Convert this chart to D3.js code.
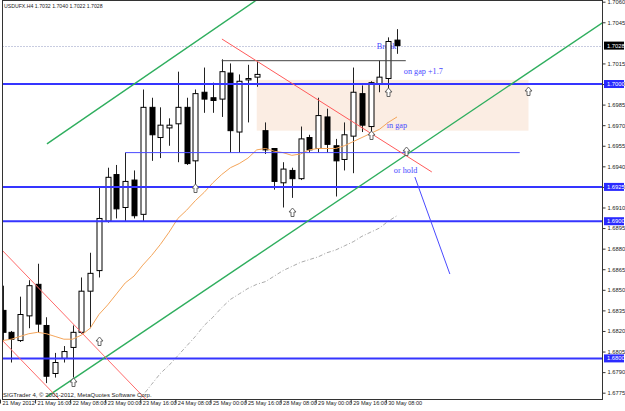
<!DOCTYPE html>
<html><head><meta charset="utf-8">
<script src="https://cdn.jsdelivr.net/npm/d3@7"></script>
<style>body{margin:0;background:#fff;} svg{display:block}</style>
</head><body><svg id="c" width="625" height="411"></svg>
<script>
// ---------- data ----------
const symbolTitle = "USDUFX.H4  1.7032 1.7040 1.7022 1.7028";
const copyright = "SIGTrader 4, \u00A9 2001-2012, MetaQuotes Software Corp.";
const timeLabels = ["21 May 2012","21 May 16:00","22 May 08:00","23 May 00:00","23 May 16:00","24 May 08:00","25 May 00:00","25 May 16:00","28 May 08:00","29 May 00:00","29 May 16:00","30 May 08:00"];
const timeLabelIdx = [0,4,8,12,16,20,24,28,32,36,40,44];
const opens  = [1.6835,1.6819,1.6813,1.6831,1.6854,1.6824,1.6789,1.6800,1.6808,1.6819,1.6849,1.6864,1.6900,1.6934,1.6910,1.6930,1.6905,1.6983,1.6961,1.6968,1.6971,1.6983,1.6944,1.6994,1.6990,1.6989,1.7008,1.6965,1.7003,1.7005,1.6966,1.6953,1.6928,1.6937,1.6931,1.6961,1.6953,1.6976,1.6955,1.6945,1.6962,1.6993,1.6969,1.7000,1.7004,1.7032];
const highs  = [1.6853,1.6820,1.6845,1.6857,1.6869,1.6830,1.6804,1.6809,1.6824,1.6859,1.6877,1.6925,1.6939,1.6941,1.6950,1.6937,1.6996,1.6990,1.6983,1.6975,1.7009,1.6990,1.6996,1.7012,1.7001,1.7018,1.7015,1.7007,1.7014,1.7016,1.6972,1.6953,1.6943,1.6939,1.6969,1.6963,1.6990,1.6982,1.6960,1.6972,1.7012,1.6999,1.7002,1.7017,1.7034,1.7040];
const lows   = [1.6813,1.6797,1.6812,1.6822,1.6819,1.6782,1.6786,1.6797,1.6786,1.6818,1.6822,1.6859,1.6899,1.6902,1.6900,1.6902,1.6900,1.6944,1.6946,1.6955,1.6943,1.6941,1.6926,1.6979,1.6979,1.6976,1.6950,1.6950,1.6972,1.6998,1.6949,1.6923,1.6910,1.6917,1.6930,1.6950,1.6950,1.6950,1.6918,1.6937,1.6935,1.6965,1.6964,1.6994,1.6997,1.7022];
const closes = [1.6819,1.6814,1.6832,1.6853,1.6825,1.6787,1.6797,1.6805,1.6819,1.6849,1.6862,1.6902,1.6932,1.6909,1.6929,1.6904,1.6983,1.6963,1.6970,1.6970,1.6983,1.6942,1.6993,1.6989,1.6988,1.7009,1.6966,1.7002,1.7004,1.7007,1.6952,1.6929,1.6938,1.6931,1.6960,1.6952,1.6977,1.6956,1.6944,1.6963,1.6994,1.6970,1.7001,1.7005,1.7031,1.7028];
const maFast = [1.6813,1.6814,1.6816,1.6818,1.6819,1.6818,1.6816,1.6814,1.6814,1.6817,1.6822,1.6832,1.6839,1.6847,1.6855,1.6860,1.6868,1.6875,1.6883,1.6892,1.6902,1.6908,1.6915,1.6921,1.6928,1.6934,1.6939,1.6942,1.6946,1.6952,1.6953,1.6951,1.6950,1.6948,1.6949,1.6952,1.6953,1.6953,1.6953,1.6955,1.6958,1.6961,1.6964,1.6967,1.6972,1.6976];
const maSlow = [null,null,null,null,null,null,null,null,null,null,null,null,null,null,null,1.6765,1.6773,1.6781,1.6789,1.6795,1.6802,1.6809,1.6816,1.6824,1.6830,1.6837,1.6843,1.6847,1.6851,1.6854,1.6856,1.6860,1.6864,1.6867,1.6870,1.6872,1.6874,1.6877,1.6879,1.6882,1.6885,1.6889,1.6892,1.6895,1.6900,1.6904];
const priceTicks = [1.7060,1.7045,1.7015,1.7000,1.6985,1.6970,1.6955,1.6940,1.6925,1.6910,1.6895,1.6880,1.6865,1.6850,1.6835,1.6820,1.6805,1.6790,1.6775];
const levelPrices = [1.7000,1.6925,1.6900,1.6800];
const lastPrice = 1.7028;
// drawing objects: [idx, price] end points
const gapBox = [[29,1.7003],[60,1.6966]];
const midLevel = [[14,1.6950],[59,1.6950]];
const highLevel = [[25,1.7017],[46,1.7017]];
const channelLow = [[5.07,1.67721],[68.47,1.70448]];
const channelHigh = [[5.07,1.69564],[30,1.70657]];
const redLineA = [[25.03,1.70328],[48.97,1.69359]];
const redLineB = [[-0.06,1.68790],[16.82,1.67671]];
const redLineC = [[-0.06,1.68134],[6.56,1.67696]];
const projection = [[47.04,1.69322],[51.03,1.68615]];
const arrowIdx = [8,11,22,33,42,44,46,60];
const arrowPrice = [1.6783,1.6813,1.6924,1.6907,1.6963,1.6994,1.6951,1.6995];
const noteTexts = ["Break","on gap +1.7","in gap","or hold"];
const noteIdx = [42.70,45.78,43.84,44.64];
const notePrice = [1.70270,1.70088,1.69694,1.69366];

// ---------- chart ----------
const svg = d3.select("#c");
const L = 2, R = 603, T = 0, B = 399.5;
const x = d3.scaleLinear().domain([0,45]).range([2.5,397]);
const y = d3.scaleLinear().domain([1.6775,1.7060]).range([392.7,1.7]);
const sans = "'Liberation Sans', Arial, sans-serif";
const serif = "'Liberation Serif', 'Times New Roman', serif";

svg.append("rect").attr("width",625).attr("height",411).attr("fill","#fff");
svg.append("defs").append("clipPath").attr("id","plot")
  .append("rect").attr("x",L).attr("y",T).attr("width",R-L).attr("height",B-T);
const g = svg.append("g").attr("clip-path","url(#plot)");

// gap box (background object)
g.append("rect")
  .attr("x",x(gapBox[0][0])).attr("y",y(gapBox[0][1]))
  .attr("width",x(gapBox[1][0])-x(gapBox[0][0]))
  .attr("height",y(gapBox[1][1])-y(gapBox[0][1]))
  .attr("fill","#fbede3");

// bid line
g.append("line").attr("x1",L).attr("x2",R).attr("y1",Math.round(y(lastPrice))+0.5).attr("y2",Math.round(y(lastPrice))+0.5)
  .attr("stroke","#c8cce0").attr("stroke-width",1).attr("stroke-dasharray","2,1");

// notes (under candles)
g.selectAll("text.note").data(noteTexts).join("text").attr("class","note")
  .attr("x",(d,i)=>x(noteIdx[i])).attr("y",(d,i)=>y(notePrice[i]))
  .attr("dominant-baseline","central")
  .attr("font-family",serif).attr("font-size",8.2).attr("fill","#4848ff")
  .text(d=>d);

// candles
const idx = d3.range(opens.length);
const bw = 5;
const cg = g.append("g");
cg.selectAll("line.wick").data(idx).join("line").attr("class","wick")
  .attr("x1",i=>Math.round(x(i))+0.5).attr("x2",i=>Math.round(x(i))+0.5)
  .attr("y1",i=>y(highs[i])).attr("y2",i=>y(lows[i]))
  .attr("stroke","#222").attr("stroke-width",1);
cg.selectAll("rect.body").data(idx).join("rect").attr("class","body")
  .attr("x",i=>Math.round(x(i))+0.5-bw/2)
  .attr("y",i=>y(Math.max(opens[i],closes[i])))
  .attr("width",bw)
  .attr("height",i=>Math.max(1,y(Math.min(opens[i],closes[i]))-y(Math.max(opens[i],closes[i]))))
  .attr("fill",i=>closes[i]>=opens[i]?"#fff":"#000")
  .attr("stroke","#000").attr("stroke-width",1);

// moving averages
const lineGen = d3.line().defined(d=>d[1]!=null).x(d=>x(d[0])).y(d=>y(d[1]));
g.append("path").attr("d",lineGen(maFast.map((v,i)=>[i,v])))
  .attr("fill","none").attr("stroke","#f4a55a").attr("stroke-width",1);
g.append("path").attr("d",lineGen(maSlow.map((v,i)=>[i,v])))
  .attr("fill","none").attr("stroke","#aaaaaa").attr("stroke-width",1).attr("stroke-dasharray","4,2,1,2");

// horizontal levels
g.selectAll("line.level").data(levelPrices).join("line").attr("class","level")
  .attr("x1",L).attr("x2",R).attr("y1",d=>y(d)).attr("y2",d=>y(d))
  .attr("stroke","#3535ff").attr("stroke-width",2);
function seg(pts,color,w,dash){
  const l = g.append("line")
    .attr("x1",x(pts[0][0])).attr("y1",y(pts[0][1]))
    .attr("x2",x(pts[1][0])).attr("y2",y(pts[1][1]))
    .attr("stroke",color).attr("stroke-width",w);
  if(dash) l.attr("stroke-dasharray",dash);
  return l;
}
seg(midLevel,"#4a4aff",1);
seg(highLevel,"#444",1);
seg(channelLow,"#2fae5e",1.4);
seg(channelHigh,"#2fae5e",1.4);
seg(redLineA,"#ff5a5a",1);
seg(redLineB,"#ff6a6a",1);
seg(redLineC,"#ff6a6a",1);
seg(projection,"#4a4aff",1);

// arrows
const arrowPath = "M0,-4.5 L3.5,-0.5 L1.5,-0.5 L1.5,4 L-1.5,4 L-1.5,-0.5 L-3.5,-0.5 Z";
g.selectAll("path.arrow").data(arrowIdx).join("path").attr("class","arrow")
  .attr("transform",(d,i)=>`translate(${Math.round(x(d))+0.5},${Math.round(y(arrowPrice[i]))+0.5})`)
  .attr("d",arrowPath).attr("fill","#fff").attr("stroke","#555").attr("stroke-width",0.9);

// title and copyright
svg.append("text").attr("x",4).attr("y",6).attr("dominant-baseline","central")
  .attr("font-family",sans).attr("font-size",5.2).attr("fill","#222").text(symbolTitle);
svg.append("text").attr("x",3).attr("y",395).attr("dominant-baseline","central")
  .attr("font-family",sans).attr("font-size",6).attr("fill","#222").text(copyright);

// frame
svg.append("rect").attr("x",L+0.5).attr("y",T+0.5).attr("width",R-L-1).attr("height",B-T-0.5)
  .attr("fill","none").attr("stroke","#333").attr("stroke-width",1);

// right axis
const ay = svg.append("g").attr("transform",`translate(${R-0.5},0)`)
  .call(d3.axisRight(y).tickValues(priceTicks).tickSize(3).tickFormat(d3.format(".4f")));
ay.select(".domain").remove();
ay.selectAll(".tick line").attr("stroke","#333");
ay.selectAll(".tick text").attr("x",5).attr("font-family",sans).attr("font-size",5.8).attr("fill","#222");

// highlighted price labels
const hl = [...levelPrices.map(p=>({p,bg:"#2a2aff"})),{p:lastPrice,bg:"#000"}];
const hg = svg.append("g").selectAll("g").data(hl).join("g")
  .attr("transform",d=>`translate(${R},${y(d.p)})`);
hg.append("rect").attr("x",1).attr("y",-4).attr("width",20).attr("height",8).attr("fill",d=>d.bg);
hg.append("text").attr("x",4).attr("dominant-baseline","central")
  .attr("font-family",sans).attr("font-size",5.8).attr("fill","#fff").text(d=>d3.format(".4f")(d.p));

// bottom axis
const ax = svg.append("g").attr("transform",`translate(-2.5,${B})`)
  .call(d3.axisBottom(x).tickValues(timeLabelIdx).tickSize(4).tickFormat((d,i)=>timeLabels[i]));
ax.select(".domain").remove();
ax.selectAll(".tick line").attr("stroke","#333");
ax.selectAll(".tick text").attr("text-anchor","start").attr("x",2).attr("y",1.5)
  .attr("font-family",sans).attr("font-size",5.6).attr("fill","#222");
</script></body></html>
